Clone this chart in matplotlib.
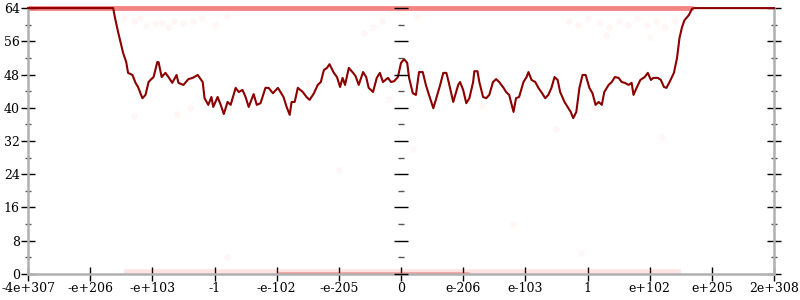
import matplotlib
matplotlib.use("Agg")
import matplotlib.pyplot as plt
from matplotlib.ticker import MultipleLocator

plt.rcParams['font.family'] = ['DejaVu Serif']

# x positions in tick units (-6 .. 6), one tick per label
tick_labels = ['-4e+307', '-e+206', '-e+103', '-1', '-e-102', '-e-205', '0',
               'e-206', 'e-103', '1', 'e+102', 'e+205', '2e+308']
tick_pos = list(range(-6, 7))

line_x = [-6.00, -4.63, -4.60, -4.55, -4.50, -4.47, -4.42, -4.39, -4.32, -4.27,
          -4.23, -4.16, -4.11, -4.06, -4.03, -3.98, -3.92, -3.90, -3.85, -3.79,
          -3.74, -3.68, -3.61, -3.58, -3.50, -3.42, -3.35, -3.27, -3.19, -3.16,
          -3.10, -3.05, -3.02, -2.95, -2.90, -2.85, -2.79, -2.74, -2.66, -2.61,
          -2.55, -2.50, -2.45, -2.37, -2.32, -2.26, -2.18, -2.13, -2.06, -1.98,
          -1.94, -1.89, -1.84, -1.79, -1.76, -1.71, -1.66, -1.58, -1.52, -1.47,
          -1.40, -1.34, -1.29, -1.24, -1.19, -1.15, -1.08, -1.03, -0.98, -0.94,
          -0.90, -0.84, -0.77, -0.73, -0.68, -0.61, -0.56, -0.52, -0.45, -0.39,
          -0.34, -0.29, -0.21, -0.16, -0.11, -0.05, 0.00, 0.05, 0.10, 0.13,
          0.19, 0.24, 0.29, 0.35, 0.40, 0.45, 0.52, 0.56, 0.63, 0.68,
          0.73, 0.77, 0.84, 0.92, 0.95, 1.00, 1.05, 1.10, 1.16, 1.18,
          1.23, 1.26, 1.32, 1.37, 1.42, 1.48, 1.53, 1.58, 1.65, 1.69,
          1.74, 1.81, 1.85, 1.90, 1.97, 2.02, 2.05, 2.10, 2.16, 2.21,
          2.27, 2.32, 2.37, 2.42, 2.47, 2.52, 2.56, 2.63, 2.68, 2.73,
          2.77, 2.82, 2.87, 2.92, 2.97, 3.03, 3.08, 3.13, 3.18, 3.23,
          3.27, 3.34, 3.39, 3.44, 3.50, 3.55, 3.60, 3.66, 3.71, 3.74,
          3.79, 3.85, 3.92, 3.97, 4.02, 4.06, 4.13, 4.18, 4.23, 4.27,
          4.32, 4.39, 4.44, 4.48, 4.52, 4.56, 4.63, 4.68, 4.71, 6.00]
line_y = [64.0, 64.0, 61.6, 58.2, 55.1, 53.2, 51.0, 48.4, 47.9, 46.0,
          45.0, 42.3, 43.1, 46.2, 46.7, 47.4, 51.0, 51.0, 47.4, 48.4,
          47.4, 46.0, 47.9, 46.0, 45.5, 46.9, 47.2, 47.9, 46.2, 42.3,
          40.7, 42.6, 40.2, 42.6, 40.7, 38.5, 41.4, 40.7, 44.8, 43.8,
          44.3, 42.6, 40.2, 43.3, 40.7, 41.1, 44.8, 44.8, 43.5, 44.8,
          43.8, 42.6, 40.2, 38.3, 41.4, 41.4, 44.8, 43.8, 42.6, 41.9,
          43.5, 45.5, 46.2, 49.1, 49.6, 50.5, 48.4, 47.4, 45.0, 47.2,
          45.5, 49.6, 48.4, 47.6, 45.5, 48.6, 47.4, 44.8, 43.8, 47.2,
          48.4, 46.2, 47.2, 46.2, 46.4, 47.4, 50.8, 51.7, 50.8, 47.2,
          43.5, 43.1, 48.6, 48.6, 45.5, 43.1, 39.9, 41.9, 45.5, 48.4,
          48.4, 46.0, 41.4, 45.5, 46.2, 44.3, 41.1, 42.3, 46.2, 48.8,
          48.8, 46.2, 42.6, 42.3, 43.1, 46.2, 46.9, 46.2, 44.8, 43.8,
          43.1, 39.0, 42.3, 42.6, 46.2, 47.4, 48.6, 46.7, 46.2, 44.8,
          43.5, 42.3, 43.1, 44.8, 47.4, 46.7, 43.8, 41.4, 40.2, 39.0,
          37.5, 39.0, 44.8, 47.9, 47.9, 44.8, 43.5, 40.7, 41.4, 40.7,
          43.8, 45.5, 46.2, 47.4, 47.2, 46.2, 46.0, 45.5, 46.0, 43.1,
          44.8, 46.7, 47.4, 48.4, 46.7, 47.2, 47.2, 46.7, 45.0, 44.8,
          46.2, 48.4, 52.0, 56.8, 59.4, 61.1, 62.3, 63.8, 64.0, 64.0]

# faint scattered points
dots_x = [-4.45, -4.30, -4.20, -4.10, -3.95, -3.85, -3.75, -3.65, -3.50, -3.35,
          -3.20, -3.00, -2.80, -0.45, -0.30, 0.25, -0.60, 2.70, 2.85, 3.00,
          3.20, 3.35, 3.50, 3.65, 3.80, 3.95, 4.10, 4.25, 4.40, 3.30,
          4.00, -4.30, -3.60, -3.40, 1.30, 2.50, 3.10, -1.50, -0.20, 4.20,
          0.20, -1.00, 1.80, -2.80, 2.90]
dots_y = [61.5, 61.0, 61.5, 59.8, 60.3, 60.5, 59.5, 61.0, 60.5, 61.0,
          61.5, 60.0, 62.0, 59.5, 61.0, 62.0, 58.0, 61.0, 60.0, 61.5,
          60.5, 59.5, 61.0, 60.0, 61.5, 60.0, 61.0, 59.5, 61.0, 57.5,
          57.0, 38.0, 38.5, 40.0, 40.5, 35.0, 40.0, 46.0, 42.0, 33.0,
          30.0, 25.0, 12.0, 4.0, 5.0]

# dense faint bands at the top and bottom edges
top_band = [-6.0, 4.7]
bottom_band = [-4.45, 4.5]
bottom_core = [-2.0, 1.1]

fig = plt.figure(figsize=(8, 3), dpi=100)
ax = fig.add_axes([0.035, 0.087, 0.9325, 0.886])

ax.plot(top_band, [64, 64], color='#e82020', alpha=0.55, lw=3.5,
        solid_capstyle='butt', clip_on=False)
ax.plot(bottom_band, [0.4, 0.4], color='#ff3030', alpha=0.13, lw=4, solid_capstyle='butt')
ax.plot(bottom_core, [0.1, 0.1], color='#e82020', alpha=0.35, lw=2, solid_capstyle='butt')
ax.scatter(dots_x, dots_y, s=22, color='#ff3030', alpha=0.045, lw=0)
ax.plot(line_x, line_y, color='#8b0000', lw=1.5, zorder=5, clip_on=False)

ax.set_xlim(-6, 6)
ax.set_ylim(0, 64)
ax.set_xticks(tick_pos)
ax.set_xticklabels(tick_labels)
ax.yaxis.set_major_locator(MultipleLocator(8))
ax.yaxis.set_minor_locator(MultipleLocator(4))
ax.yaxis.set_ticks_position('both')

for side in ['left', 'right', 'bottom']:
    ax.spines[side].set_color('#b0b0b0')
    ax.spines[side].set_linewidth(1.8)
ax.spines['top'].set_visible(False)

ax.tick_params(axis='both', which='major', direction='inout', length=10, width=1,
               color='black', labelsize=9, pad=1)
ax.tick_params(axis='y', which='minor', direction='inout', length=5, width=1,
               color='#555555')
ax.tick_params(axis='y', labelright=False)

# center vertical axis at x = 0
mid = fig.add_axes(ax.get_position(), sharey=ax, frameon=False)
mid.patch.set_visible(False)
mid.set_xticks([])
mid.spines['left'].set_visible(True)
mid.spines['left'].set_position(('axes', 0.5))
mid.spines['left'].set_color('#b0b0b0')
mid.spines['left'].set_linewidth(1.8)
mid.tick_params(axis='y', which='both', labelleft=False, direction='inout')
mid.tick_params(axis='y', which='major', length=10, width=1, color='black')
mid.tick_params(axis='y', which='minor', length=5, width=1, color='#555555')

fig.savefig('out.png', dpi=100)
